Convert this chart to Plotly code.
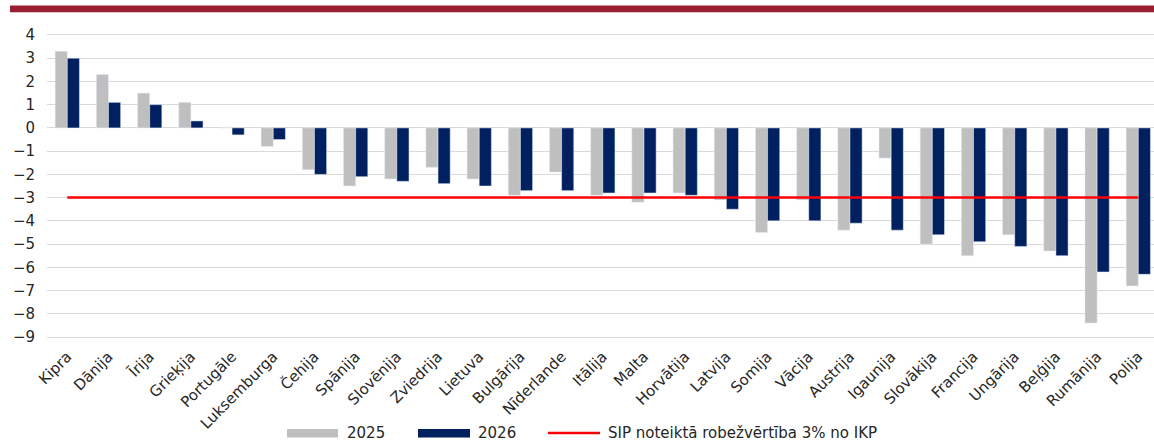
import plotly.graph_objects as go

# =====================================================
# DATA
# =====================================================

countries = [
    "Kipra", "Dānija", "Īrija", "Grieķija", "Portugāle", "Luksemburga",
    "Čehija", "Spānija", "Slovēnija", "Zviedrija", "Lietuva", "Bulgārija",
    "Nīderlande", "Itālija", "Malta", "Horvātija", "Latvija", "Somija",
    "Vācija", "Austrija", "Igaunija", "Slovākija", "Francija", "Ungārija",
    "Beļģija", "Rumānija", "Polija"
]

values_2025 = [
    3.3, 2.3, 1.5, 1.1, 0.0, -0.8,
    -1.8, -2.5, -2.2, -1.7, -2.2, -2.9,
    -1.9, -2.9, -3.2, -2.8, -3.1, -4.5,
    -3.1, -4.4, -1.3, -5.0, -5.5, -4.6,
    -5.3, -8.4, -6.8
]

values_2026 = [
    3.0, 1.1, 1.0, 0.3, -0.3, -0.5,
    -2.0, -2.1, -2.3, -2.4, -2.5, -2.7,
    -2.7, -2.8, -2.8, -2.9, -3.5, -4.0,
    -4.0, -4.1, -4.4, -4.6, -4.9, -5.1,
    -5.5, -6.2, -6.3
]

limit_value = -3
limit_name = "SIP noteiktā robežvērtība 3% no IKP"

y_ticks = list(range(-9, 5))

# =====================================================
# STYLE
# =====================================================

FONT = "DejaVu Sans"
TEXT_COLOR = "#262626"
GRAY = "#bfbfbf"
NAVY = "#002060"
RED = "#ff0000"
BAND = "#9b1f32"

W, H = 1154, 441
PLOT_L, PLOT_R = 47, 1154
PLOT_T, PLOT_B = 28, 344


def px_x(x):
    return (x - PLOT_L) / (PLOT_R - PLOT_L)


def px_y(y):
    return (PLOT_B - y) / (PLOT_B - PLOT_T)


# =====================================================
# FIGURE
# =====================================================

fig = go.Figure()

fig.add_trace(
    go.Bar(
        x=countries,
        y=values_2025,
        name="2025",
        marker_color=GRAY,
        showlegend=False
    )
)

fig.add_trace(
    go.Bar(
        x=countries,
        y=values_2026,
        name="2026",
        marker_color=NAVY,
        showlegend=False
    )
)

fig.add_trace(
    go.Scatter(
        x=countries,
        y=[limit_value] * len(countries),
        mode="lines",
        name=limit_name,
        line=dict(color=RED, width=2.5),
        showlegend=False
    )
)

n = len(countries)
step = (1138.3 - 67.3) / (n - 1)
x_lo = -(67.3 - PLOT_L) / step
x_hi = (n - 1) + (PLOT_R - 1138.3) / step

fig.update_layout(
    width=W,
    height=H,
    margin=dict(l=PLOT_L, r=W - PLOT_R, t=PLOT_T, b=H - PLOT_B),
    paper_bgcolor="white",
    plot_bgcolor="white",
    barmode="group",
    bargap=0.41,
    bargroupgap=0,
    font=dict(family=FONT, size=15, color=TEXT_COLOR),
    xaxis=dict(
        range=[x_lo, x_hi],
        tickangle=-45,
        showgrid=False,
        showline=False,
        ticks="",
        tickfont=dict(size=15)
    ),
    yaxis=dict(
        range=[-9.3, 4.3],
        tickvals=y_ticks,
        showgrid=True,
        gridcolor="#d9d9d9",
        gridwidth=1,
        zeroline=True,
        zerolinecolor="#d9d9d9",
        zerolinewidth=1,
        showline=False,
        ticks="",
        ticklabelstandoff=11,
        tickfont=dict(size=15)
    )
)

# =====================================================
# HEADER BAND + CUSTOM LEGEND
# =====================================================

shapes = [
    dict(
        type="rect", xref="paper", yref="paper",
        x0=px_x(10), x1=px_x(1154), y0=px_y(12.3), y1=px_y(5.5),
        fillcolor=BAND, line_width=0, layer="above"
    ),
    dict(
        type="rect", xref="paper", yref="paper",
        x0=px_x(287), x1=px_x(338), y0=px_y(437.5), y1=px_y(429),
        fillcolor=GRAY, line_width=0
    ),
    dict(
        type="rect", xref="paper", yref="paper",
        x0=px_x(418), x1=px_x(470), y0=px_y(437.5), y1=px_y(429),
        fillcolor=NAVY, line_width=0
    ),
    dict(
        type="line", xref="paper", yref="paper",
        x0=px_x(548), x1=px_x(600), y0=px_y(433), y1=px_y(433),
        line=dict(color=RED, width=2.5)
    ),
]

legend_items = [
    (345, "2025"),
    (476, "2026"),
    (606, limit_name),
]

annotations = [
    dict(
        x=px_x(x), y=px_y(433), xref="paper", yref="paper",
        text=label, showarrow=False, xanchor="left", yanchor="middle",
        font=dict(family=FONT, size=15, color=TEXT_COLOR)
    )
    for x, label in legend_items
]

fig.update_layout(shapes=shapes, annotations=annotations)

# page body has a default 8px margin; drop it so the figure sits at 0,0
fig.write_html(
    "out.html",
    config={"displayModeBar": False},
    post_script="document.body.style.margin='0';"
)
